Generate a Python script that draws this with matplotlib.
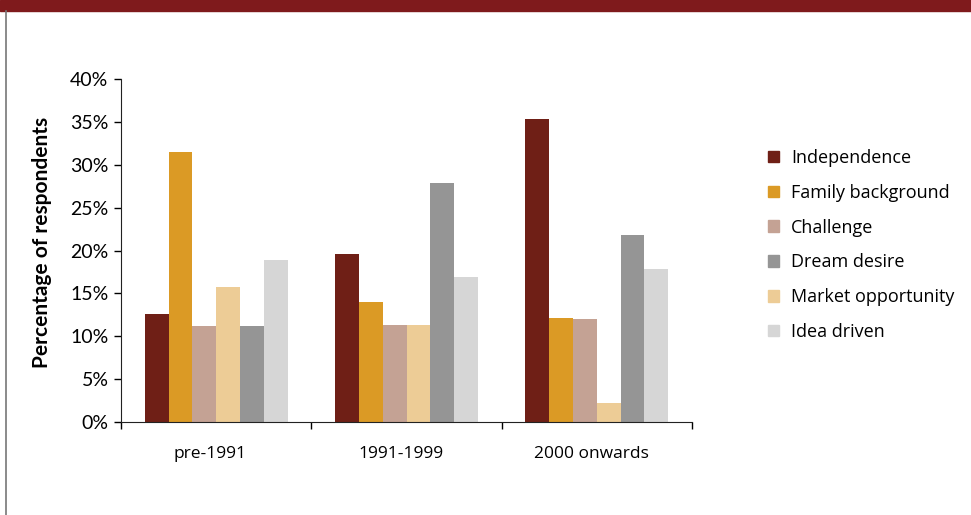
import matplotlib
matplotlib.use("Agg")
import matplotlib.pyplot as plt
import numpy as np
from matplotlib.patches import Rectangle, Patch
from matplotlib.ticker import FuncFormatter, MultipleLocator

categories = ["pre-1991", "1991-1999", "2000 onwards"]
series_names = ["Independence", "Family background", "Challenge",
                "Market opportunity", "Dream desire", "Idea driven"]
independence = [12.6, 19.6, 35.3]
family_background = [31.5, 14.0, 12.1]
challenge = [11.2, 11.3, 12.0]
market_opportunity = [15.7, 11.3, 2.2]
dream_desire = [11.2, 27.9, 21.8]
idea_driven = [18.9, 16.9, 17.8]
legend_order = ["Independence", "Family background", "Challenge",
                "Dream desire", "Market opportunity", "Idea driven"]

series = [independence, family_background, challenge,
          market_opportunity, dream_desire, idea_driven]
colors = {"Independence": "#6f1f16", "Family background": "#db9a25",
          "Challenge": "#c4a294", "Market opportunity": "#edcc96",
          "Dream desire": "#959595", "Idea driven": "#d6d6d6"}

fig = plt.figure(figsize=(9.71, 5.15), dpi=100)
# top banner and left border
fig.patches.append(Rectangle((0, 1 - 11/515), 1, 11/515, transform=fig.transFigure,
                             color="#7f1a1c", zorder=0))
fig.add_artist(plt.Line2D([5.5/971, 5.5/971], [0, 1 - 11/515], transform=fig.transFigure,
                          color="#777777", lw=1.2))

ax = fig.add_axes([121/971, 1 - 422/515, (692 - 121)/971, (422 - 79)/515])
x = np.arange(len(categories))
n = len(series)
bw = 0.125
for i, (name, vals) in enumerate(zip(series_names, series)):
    offs = (i - (n - 1) / 2) * bw
    ax.bar(x + offs, vals, width=bw, color=colors[name], label=name, zorder=2)

ax.set_xlim(-0.5, len(categories) - 0.5)
ax.set_ylim(0, 40)
ax.yaxis.set_major_locator(MultipleLocator(5))
ax.yaxis.set_major_formatter(FuncFormatter(lambda v, p: f"{v:.0f}%"))
ax.set_xticks(np.arange(-0.5, len(categories), 1.0))
ax.set_xticklabels([])
ax.set_xticks(x - 0.03, minor=True)
ax.set_xticklabels(categories, minor=True, fontsize=12.5, family="Open Sans")
ax.tick_params(axis="x", which="minor", length=0, pad=17)
ax.tick_params(axis="x", which="major", length=5, direction="out", width=1)
ax.tick_params(axis="y", length=5, direction="out", width=1, labelsize=14, pad=4)
for lab in ax.get_yticklabels():
    lab.set_family("Lato")
for s in ["top", "right"]:
    ax.spines[s].set_visible(False)
for s in ["left", "bottom"]:
    ax.spines[s].set_color("#222222")
ax.set_ylabel("Percentage of respondents", fontsize=15, fontweight="bold",
              family="Lato", va="center")
ax.yaxis.set_label_coords(-0.138, 0.523)

handles = [Patch(color=colors[nm]) for nm in legend_order]
leg = fig.legend(handles, legend_order, loc="upper left",
                 bbox_to_anchor=(768/971, 1 - 149/515), frameon=False,
                 prop={"family": "Open Sans", "size": 13},
                 handlelength=0.62, handleheight=0.62, handletextpad=0.65,
                 labelspacing=0.93, borderaxespad=0, borderpad=0)

fig.savefig("out.png", dpi=100)
